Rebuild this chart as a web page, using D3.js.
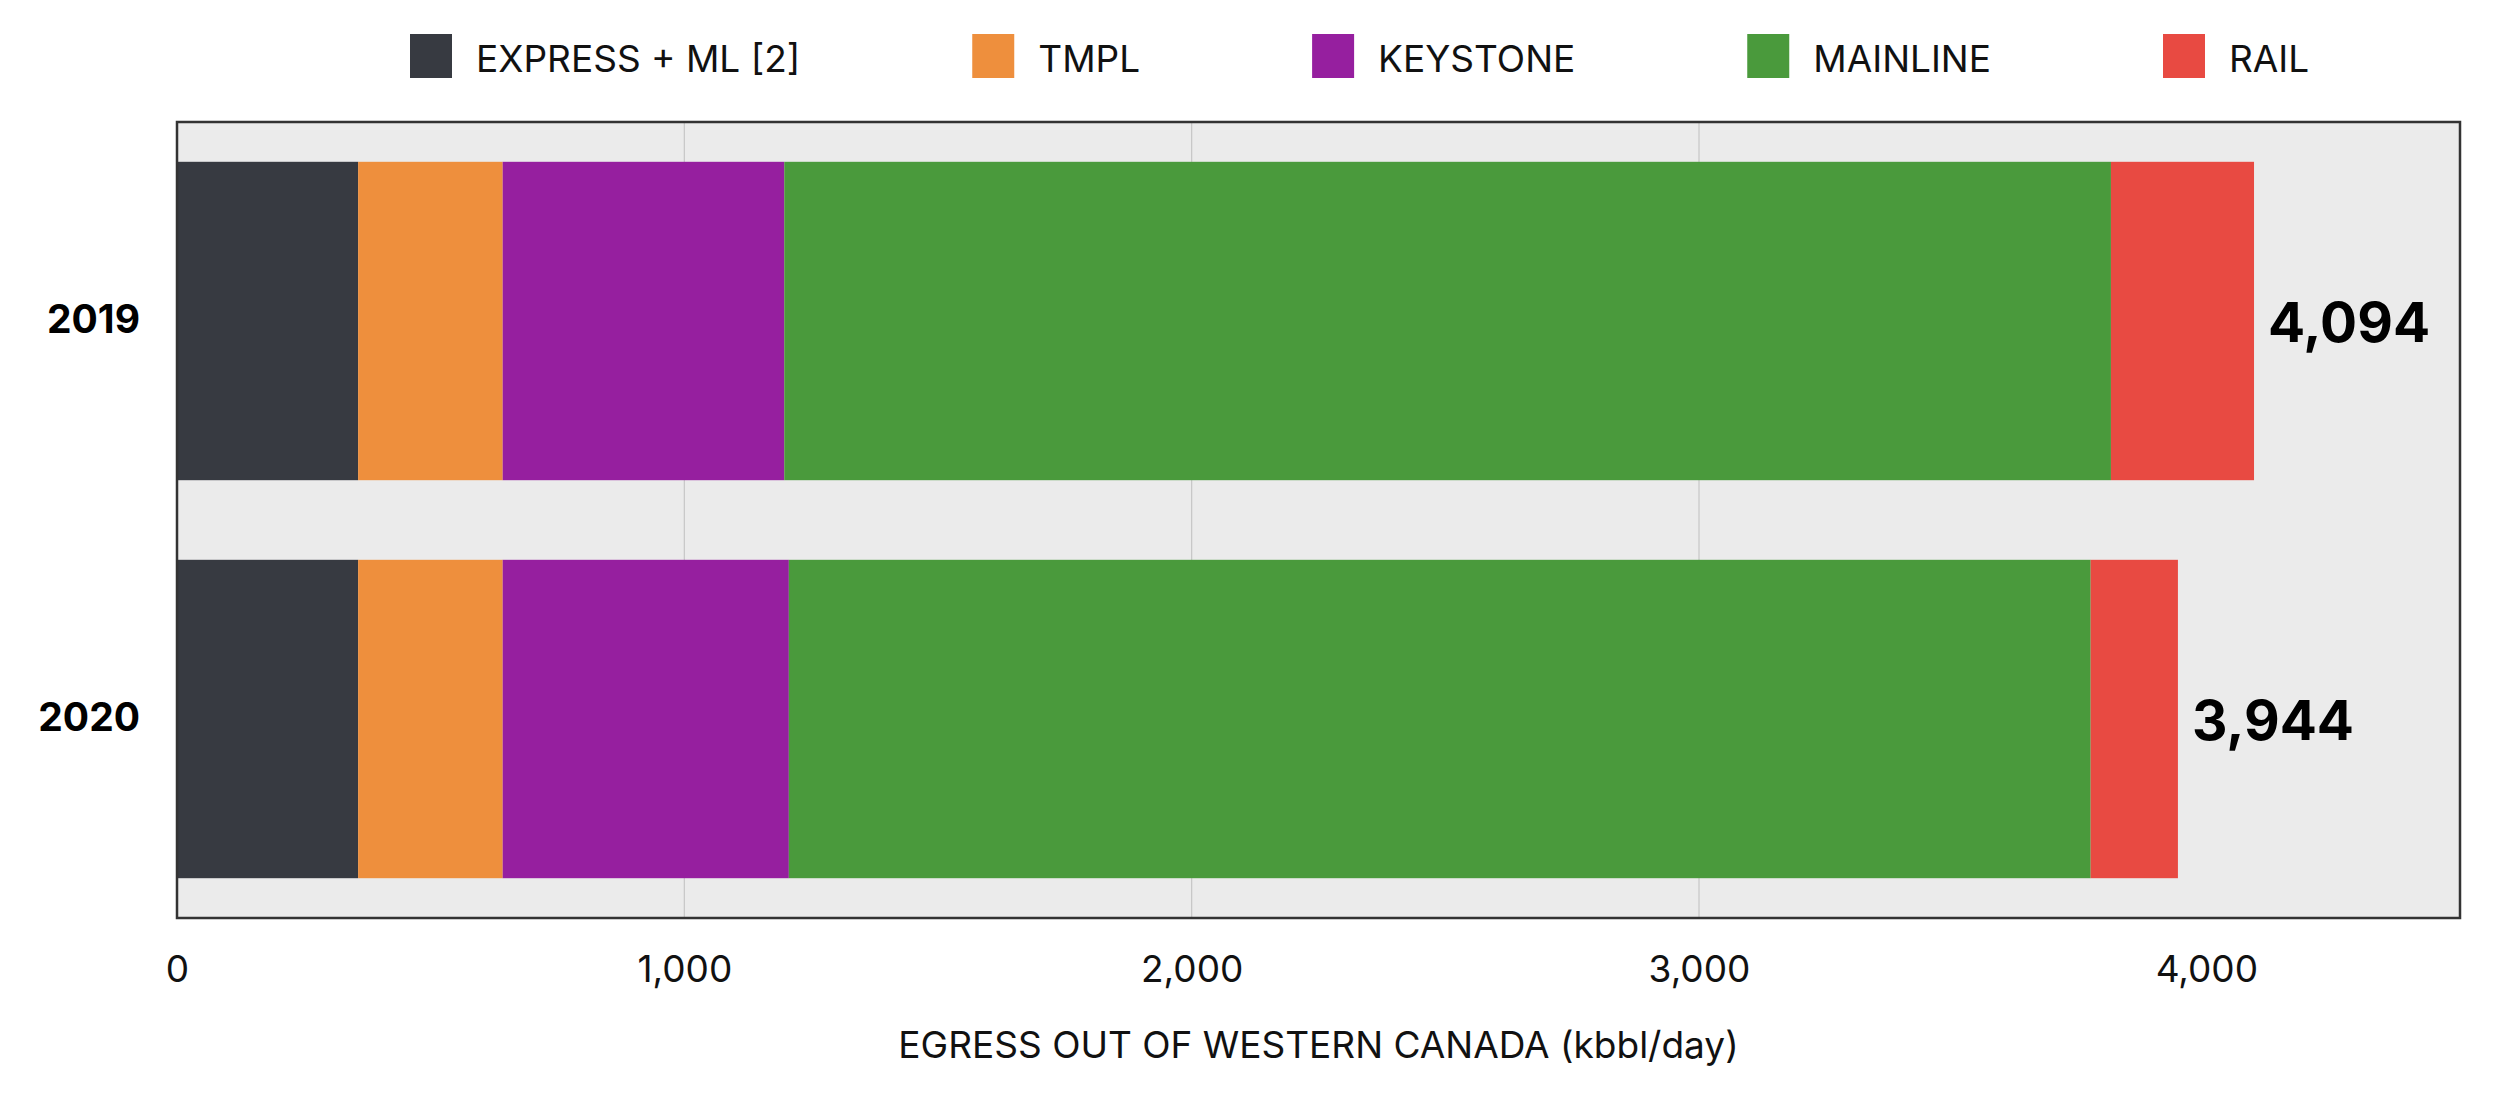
<!DOCTYPE html>
<html>
<head>
<meta charset="utf-8">
<script src="https://cdn.jsdelivr.net/npm/d3@7"></script>
<style>
  html, body { margin: 0; padding: 0; background: #ffffff; }
  svg { display: block; font-family: Inter, "Noto Sans", sans-serif; }
</style>
</head>
<body>
<svg id="chart" width="2500" height="1100"></svg>
<script>
// ---- data ----
const years = ["2019", "2020"];
const seriesNames = ["EXPRESS + ML [2]", "TMPL", "KEYSTONE", "MAINLINE", "RAIL"];
const expressML = [357, 357];
const tmpl = [285, 285];
const keystone = [555, 564];
const mainline = [2615, 2566];
const rail = [282, 172];
const seriesColors = ["#373a41", "#ee8f3d", "#961f9f", "#4a9a3c", "#e84a42"];
const xTicks = [0, 1000, 2000, 3000, 4000];
const gridValues = [1000, 2000, 3000];
const xMax = 4500;
const xTitle = "EGRESS OUT OF WESTERN CANADA (kbbl/day)";

// ---- build table ----
const seriesValues = [expressML, tmpl, keystone, mainline, rail];
const table = years.map((y, i) => {
  const row = { year: y };
  seriesNames.forEach((s, j) => row[s] = seriesValues[j][i]);
  return row;
});
const stacked = d3.stack().keys(seriesNames)(table);
const totals = table.map(r => d3.sum(seriesNames, s => r[s]));

// ---- layout ----
const svg = d3.select("#chart");
const plot = { left: 177, right: 2460, top: 122, bottom: 918 };

const x = d3.scaleLinear().domain([0, xMax]).range([plot.left, plot.right]);
const y = d3.scaleBand().domain(years).range([plot.top, plot.bottom])
  .paddingInner(0.2).paddingOuter(0.1);
const color = d3.scaleOrdinal().domain(seriesNames).range(seriesColors);

// background
svg.append("rect")
  .attr("x", plot.left).attr("y", plot.top)
  .attr("width", plot.right - plot.left).attr("height", plot.bottom - plot.top)
  .attr("fill", "#ebebeb");

// gridlines
svg.append("g").selectAll("line").data(gridValues).join("line")
  .attr("x1", d => x(d)).attr("x2", d => x(d))
  .attr("y1", plot.top).attr("y2", plot.bottom)
  .attr("stroke", "#c6c6c6").attr("stroke-width", 1.2);

// bars
svg.append("g").selectAll("g").data(stacked).join("g")
  .attr("fill", d => color(d.key))
  .selectAll("rect").data(d => d).join("rect")
  .attr("x", d => x(d[0]))
  .attr("width", d => x(d[1]) - x(d[0]))
  .attr("y", d => y(d.data.year))
  .attr("height", y.bandwidth());

// total labels
svg.append("g").selectAll("text").data(table).join("text")
  .attr("x", (d, i) => x(totals[i]) + 14)
  .attr("y", d => y(d.year) + y.bandwidth() / 2)
  .attr("dy", "0.38em")
  .attr("font-size", 55)
  .attr("font-weight", 700)
  .attr("fill", "#000")
  .text((d, i) => d3.format(",")(totals[i]));

// frame
svg.append("rect")
  .attr("x", plot.left).attr("y", plot.top)
  .attr("width", plot.right - plot.left).attr("height", plot.bottom - plot.top)
  .attr("fill", "none").attr("stroke", "#333333").attr("stroke-width", 2.5);

// x axis
const xAxis = svg.append("g")
  .attr("transform", `translate(0,${plot.bottom})`)
  .call(d3.axisBottom(x).tickValues(xTicks).tickFormat(d3.format(",")).tickSize(0).tickPadding(38));
xAxis.select(".domain").remove();
xAxis.selectAll("text")
  .attr("font-size", 37).attr("fill", "#111")
  .attr("font-family", "Inter, 'Noto Sans', sans-serif");

// y axis
const yAxis = svg.append("g")
  .attr("transform", `translate(${plot.left},0)`)
  .call(d3.axisLeft(y).tickSize(0).tickPadding(37));
yAxis.select(".domain").remove();
yAxis.selectAll("text")
  .attr("font-size", 39).attr("font-weight", 700).attr("fill", "#000")
  .attr("font-family", "Inter, 'Noto Sans', sans-serif");

// x title
svg.append("text")
  .attr("x", (plot.left + plot.right) / 2)
  .attr("y", 1058)
  .attr("text-anchor", "middle")
  .attr("font-size", 37)
  .attr("fill", "#111")
  .text(xTitle);

// legend
const legend = svg.append("g");
let lx = 410;
seriesNames.forEach((s, i) => {
  const g = legend.append("g").attr("transform", `translate(${lx},0)`);
  g.append("rect").attr("x", 0).attr("y", 34).attr("width", 42).attr("height", 44)
    .attr("fill", color(s));
  const t = g.append("text").attr("x", 66).attr("y", 72)
    .attr("font-size", 37).attr("fill", "#111").text(s);
  const w = t.node().getComputedTextLength();
  lx += 66 + w + 172;
});
</script>
</body>
</html>
